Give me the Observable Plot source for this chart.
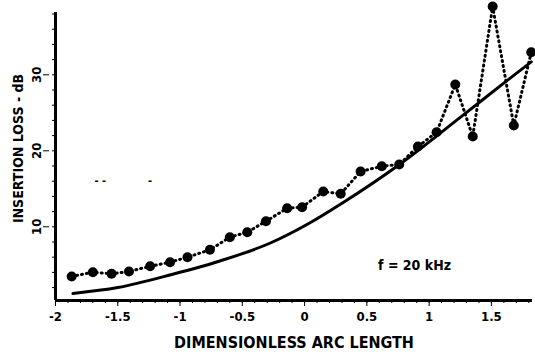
<!DOCTYPE html>
<html>
<head>
<meta charset="utf-8">
<script src="https://cdn.jsdelivr.net/npm/d3@7"></script>
<script src="https://cdn.jsdelivr.net/npm/@observablehq/plot@0.6"></script>
<style>
  html, body { margin: 0; padding: 0; background: #fff; }
  #chart svg { display: block; }
</style>
</head>
<body>
<div id="chart"></div>
<script>
// Measured points (dotted line with filled circles)
const measX = [-1.87, -1.70, -1.55, -1.41, -1.24, -1.08, -0.94, -0.76, -0.60, -0.46, -0.31, -0.14, -0.02, 0.15, 0.29, 0.45, 0.62, 0.76, 0.91, 1.06, 1.21, 1.35, 1.51, 1.68, 1.82];
const measY = [3.46, 4.02, 3.81, 4.12, 4.81, 5.34, 6.0, 6.97, 8.63, 9.29, 10.73, 12.44, 12.58, 14.64, 14.34, 17.27, 17.97, 18.19, 20.56, 22.44, 28.72, 21.88, 38.98, 23.33, 32.97];
// Theoretical curve (solid line)
const theoX = [-1.86, -1.50, -1.06, -0.68, -0.27, 0.03, 0.31, 0.77, 1.25, 1.63, 1.82];
const theoY = [1.22, 2.0, 3.75, 5.5, 7.9, 10.4, 13.2, 18.3, 24.4, 29.3, 31.7];

const xTicks = [-2, -1.5, -1, -0.5, 0, 0.5, 1, 1.5];
const xTickLabels = ["-2", "-1.5", "-1", "-0.5", "0", "0.5", "1", "1.5"];
const yTicks = [10, 20, 30];
const yTickLabels = ["10", "20", "30"];

const xLabel = "DIMENSIONLESS ARC LENGTH";
const yLabel = "INSERTION LOSS - dB";
const note = "f = 20 kHz";

const meas = measX.map((x, i) => ({x, y: measY[i]}));
const theo = theoX.map((x, i) => ({x, y: theoY[i]}));

const font = "'DejaVu Sans Condensed', 'DejaVu Sans', sans-serif";

const chart = Plot.plot({
  width: 535,
  height: 360,
  marginLeft: 55,
  marginRight: 3,
  marginTop: 12,
  marginBottom: 60,
  style: {fontFamily: font, fontWeight: "bold", color: "#000", background: "#fff"},
  x: {domain: [-2, 1.83]},
  y: {domain: [0.3, 38.2]},
  marks: [
    // minor ticks
    Plot.axisX({ticks: d3.range(-2, 1.84, 0.1), tickSize: 3, tickWidth: 2, text: null, label: null}),
    Plot.axisY({ticks: d3.range(2, 38.2, 2), tickSize: 3, tickWidth: 2, text: null, label: null}),
    // major ticks
    Plot.axisX({ticks: xTicks, tickSize: 6, tickWidth: 2.5, tickPadding: 5, fontSize: 13, fontWeight: "bold",
      tickFormat: (d) => xTickLabels[xTicks.indexOf(d)], label: null}),
    Plot.axisY({ticks: yTicks, tickSize: 6, tickWidth: 2.5, tickPadding: 3, fontSize: 13, fontWeight: "bold",
      tickRotate: -90, textAnchor: "middle", dx: -6,
      tickFormat: (d) => yTickLabels[yTicks.indexOf(d)], label: null}),
    // axis lines
    Plot.ruleY([0.3], {stroke: "#000", strokeWidth: 3}),
    Plot.ruleX([-2], {y1: 0.3, y2: 38.2, stroke: "#000", strokeWidth: 3}),
    // theoretical curve
    Plot.line(theo, {x: "x", y: "y", curve: "monotone-x", stroke: "#000", strokeWidth: 3}),
    // measured
    Plot.line(meas, {x: "x", y: "y", stroke: "#000", strokeWidth: 3, strokeDasharray: "1,4", strokeLinecap: "round"}),
    Plot.dot(meas, {x: "x", y: "y", r: 5, fill: "#000", stroke: "none"}),
    // annotations
    Plot.text([note], {x: 0.59, y: 4.9, textAnchor: "start", fontSize: 14, fontWeight: "bold", fill: "#000"}),
    Plot.text(["- -", "-"], {x: [-1.64, -1.24], y: [16.1, 16.1], fontSize: 11, fontWeight: "bold", fill: "#000"}),
    Plot.text([xLabel], {frameAnchor: "bottom", dy: 47, fontSize: 16, fontWeight: "bold", fill: "#000"}),
    Plot.text([yLabel], {frameAnchor: "left", textAnchor: "middle", dx: -37, dy: -8, rotate: -90, fontSize: 14, fontWeight: "bold", fill: "#000"})
  ]
});
document.getElementById("chart").appendChild(chart);
</script>
</body>
</html>
